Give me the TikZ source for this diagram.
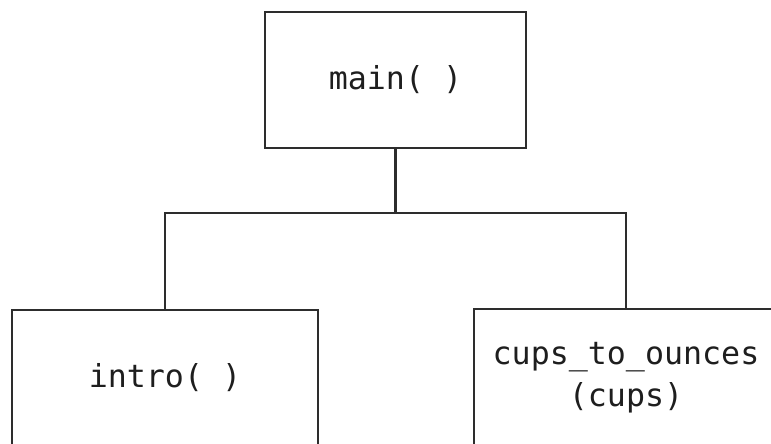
\documentclass[tikz,border=0pt]{standalone}
\usepackage{fontspec}
\newfontfamily\codefont{DejaVu Sans Mono}
\definecolor{boxline}{RGB}{45,45,45}
\definecolor{codetext}{RGB}{30,30,30}

\begin{document}
\begin{tikzpicture}[
    fnbox/.style={draw=boxline, line width=1.5pt, inner sep=0pt,
        font=\codefont\fontsize{18}{24}\selectfont, text=codetext, align=center},
    link/.style={draw=boxline, line width=1.5pt}
]
    % Frame of the figure
    \useasboundingbox (0,0) rectangle (15.42,-8.86);
    \clip (0,0) rectangle (15.42,-8.86);

    % Caller
    \node[fnbox, minimum width=5.22cm, minimum height=2.72cm] (main) at (7.91,-1.60) {main( )};

    % Called functions
    \node[fnbox, minimum width=6.12cm, minimum height=2.72cm] (intro) at (3.30,-7.56) {intro( )};
    \node[fnbox, minimum width=6.08cm, minimum height=2.74cm] (cups) at (12.52,-7.55) {cups\_to\_ounces\\(cups)};

    % Connectors
    \coordinate (split) at (7.91,-4.26);
    \draw[link] (main.south) -- (split);
    \draw[link] (intro.north) |- (split) -| (cups.north);
\end{tikzpicture}
\end{document}
